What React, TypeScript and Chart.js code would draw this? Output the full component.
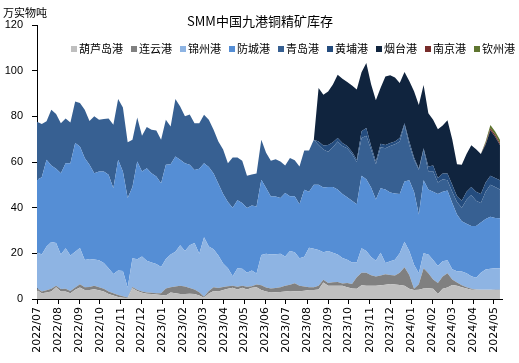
import React, { useEffect, useRef } from "react";
import { Chart, registerables } from "chart.js";

Chart.register(...registerables);

const TITLE = "SMM中国九港铜精矿库存";
const UNIT = "万实物吨";
const FIRST_WEEK = "2022-07-01";

const monthLabels = [
  "2022/07", "2022/08", "2022/09", "2022/10", "2022/11", "2022/12",
  "2023/01", "2023/02", "2023/03", "2023/04", "2023/05", "2023/06",
  "2023/07", "2023/08", "2023/09", "2023/10", "2023/11", "2023/12",
  "2024/01", "2024/02", "2024/03", "2024/04", "2024/05",
];

const seriesNames = ["葫芦岛港", "连云港", "锦州港", "防城港", "青岛港", "黄埔港", "烟台港", "南京港", "钦州港"];
const seriesColors = ["#BFBFBF", "#808080", "#8EB4E3", "#558ED5", "#376092", "#244C7E", "#10243E", "#772C2A", "#5F7530"];

const huludao = [
  3.9, 2.5, 2.8, 3.3, 5.1, 3.3, 3.3, 2.5, 4.0, 5.0,
  3.9, 3.9, 4.3, 3.8, 3.3, 2.2, 1.5, 0.9, 0.6, 0.4,
  4.7, 3.5, 2.7, 2.3, 2.2, 2.0, 1.7, 1.5, 2.8, 2.5,
  2.2, 2.2, 2.3, 2.2, 1.5, 0.5, 2.4, 3.5, 3.3, 3.9,
  4.5, 4.9, 4.2, 4.9, 4.2, 4.9, 5.2, 3.9, 3.3, 2.9,
  3.0, 3.1, 3.3, 3.5, 3.4, 3.4, 3.6, 3.9, 3.9, 4.2,
  7.2, 5.8, 5.8, 5.8, 5.8, 5.2, 4.6, 4.5, 6.0, 5.8,
  5.8, 5.8, 6.0, 6.2, 6.6, 6.3, 6.1, 5.8, 4.5, 3.9,
  4.1, 4.6, 4.7, 4.5, 2.2, 4.5, 5.0, 6.1, 5.8, 5.2,
  4.6, 4.1, 4.0, 4.0, 4.0, 4.0, 3.9, 3.9,
];

const lianyungang = [
  0.8, 0.8, 1.0, 1.2, 0.7, 1.1, 1.2, 1.0, 1.0, 1.5,
  1.2, 1.4, 1.5, 1.4, 1.2, 1.1, 1.0, 0.8, 0.6, 0.3,
  0.6, 0.5, 0.6, 0.6, 0.5, 0.5, 0.8, 3.1, 2.4, 3.0,
  3.6, 3.3, 2.5, 2.0, 1.5, 0.5, 1.1, 1.6, 1.5, 1.4,
  1.1, 0.9, 1.2, 0.9, 1.2, 0.7, 1.1, 2.1, 1.7, 1.7,
  1.8, 2.1, 2.5, 2.7, 3.5, 2.4, 1.9, 1.3, 1.2, 1.6,
  1.2, 1.2, 1.5, 1.6, 1.0, 1.8, 2.0, 5.0, 5.5, 5.7,
  4.6, 4.0, 4.3, 4.6, 3.9, 4.0, 5.4, 8.1, 6.0, 0.6,
  2.4, 8.9, 6.6, 4.0, 4.8, 5.3, 6.3, 2.4, 1.4, 0.8,
  0.6, 0.4, 0.2, 0.1, 0.1, 0.0, 0.1, 0.1,
];

const jinzhou = [
  15.8, 16.2, 19.2, 20.5, 18.7, 15.1, 17.7, 15.5, 15.7, 15.8,
  12.0, 12.2, 11.5, 11.8, 11.3, 10.2, 8.5, 10.8, 11.1, 4.3,
  12.5, 13.4, 15.3, 13.9, 13.3, 12.8, 11.5, 12.9, 14.3, 15.2,
  17.7, 15.5, 18.7, 20.3, 16.8, 26.0, 19.5, 16.7, 14.2, 10.2,
  7.9, 4.2, 8.1, 7.4, 6.1, 6.9, 4.9, 13.3, 14.8, 14.9,
  14.8, 14.6, 12.8, 14.8, 13.6, 12.0, 13.0, 17.3, 16.9, 15.7,
  12.1, 14.0, 13.0, 12.1, 11.2, 10.2, 9.4, 6.5, 10.7, 9.5,
  8.0, 7.0, 10.0, 5.0, 6.0, 6.9, 8.5, 11.2, 10.5, 10.5,
  4.8, 6.5, 8.2, 8.6, 7.5, 6.7, 5.7, 4.5, 5.0, 6.0,
  6.1, 5.5, 5.1, 7.4, 8.8, 9.3, 9.5, 9.5,
];

const fangcheng = [
  31.7, 33.8, 38.0, 33.5, 32.5, 35.6, 37.3, 40.5, 47.6, 44.5,
  44.6, 41.3, 37.8, 38.8, 40.0, 40.9, 37.5, 48.5, 43.5, 39.2,
  31.2, 42.8, 37.2, 40.5, 39.1, 38.3, 36.7, 41.3, 39.5, 41.7,
  37.5, 38.5, 35.3, 32.0, 37.2, 32.5, 34.8, 33.2, 31.5, 30.5,
  29.0, 30.0, 29.7, 28.8, 28.3, 28.5, 29.3, 32.9, 28.8, 25.4,
  25.3, 24.4, 27.8, 24.0, 24.5, 23.7, 29.3, 24.5, 28.0, 28.5,
  28.3, 28.0, 28.7, 28.5, 28.0, 27.4, 27.0, 25.5, 31.8, 31.5,
  30.4, 26.8, 28.2, 32.2, 30.1, 29.0, 26.0, 26.4, 31.0, 32.0,
  25.7, 32.0, 28.5, 29.9, 31.5, 30.5, 30.5, 29.0, 24.8, 22.0,
  21.7, 22.0, 22.7, 22.0, 22.1, 22.7, 22.0, 21.9,
];

const qingdao = [
  25.4, 23.3, 16.8, 24.4, 24.0, 21.9, 19.5, 17.8, 18.2, 19.0,
  21.2, 19.2, 24.9, 22.7, 23.0, 24.6, 27.8, 26.6, 28.1, 24.4,
  20.7, 19.3, 15.7, 18.0, 19.0, 20.2, 19.0, 19.7, 16.6, 25.2,
  23.3, 20.5, 22.0, 20.5, 20.0, 21.2, 20.7, 19.1, 18.5, 19.5,
  17.0, 22.0, 18.8, 18.5, 14.2, 13.5, 14.5, 17.5, 15.4, 15.6,
  16.3, 16.0, 12.1, 16.8, 15.8, 16.5, 17.2, 18.0, 19.7, 17.5,
  16.7, 15.5, 17.5, 21.0, 21.0, 21.4, 20.5, 18.5, 16.5, 19.0,
  16.7, 15.4, 18.0, 18.0, 20.4, 21.6, 23.0, 24.8, 15.5, 14.0,
  19.6, 13.4, 8.0, 9.0, 5.0, 5.5, 4.5, 5.0, 5.5, 6.0,
  10.5, 13.5, 11.0, 8.5, 12.0, 14.0, 13.5, 12.6,
];

const huangpu = [
  0, 0, 0, 0, 0, 0, 0, 0, 0, 0,
  0, 0, 0, 0, 0, 0, 0, 0, 0, 0,
  0, 0, 0, 0, 0, 0, 0, 0, 0, 0,
  0, 0, 0, 0, 0, 0, 0, 0, 0, 0,
  0, 0, 0, 0, 0, 0, 0, 0, 0, 0,
  0, 0, 0, 0, 0, 0, 0, 0, 0, 1.5,
  1.7, 3.0, 2.2, 1.5, 1.3, 1.0, 1.0, 1.0, 3.0, 3.4,
  1.5, 1.2, 1.5, 1.5, 1.3, 1.2, 1.5, 0.7, 1.5, 1.0,
  0.4, 0.6, 2.0, 2.5, 2.0, 2.5, 3.0, 3.0, 2.5, 3.0,
  3.5, 3.5, 4.0, 4.0, 4.0, 4.0, 4.0, 4.0,
];

const yantai = [
  0, 0, 0, 0, 0, 0, 0, 0, 0, 0,
  0, 0, 0, 0, 0, 0, 0, 0, 0, 0,
  0, 0, 0, 0, 0, 0, 0, 0, 0, 0,
  0, 0, 0, 0, 0, 0, 0, 0, 0, 0,
  0, 0, 0, 0, 0, 0, 0, 0, 0, 0,
  0, 0, 0, 0, 0, 0, 0, 0, 0, 23.4,
  22.3, 23.4, 25.2, 27.7, 28.2, 28.0, 29.0, 30.7, 25.8, 28.5,
  27.0, 26.8, 24.5, 30.0, 29.7, 28.0, 24.1, 22.4, 26.5, 29.0,
  28.0, 27.7, 23.4, 20.0, 21.3, 21.0, 23.3, 20.0, 14.0, 15.8,
  16.5, 18.3, 18.6, 17.5, 16.7, 19.9, 18.1, 15.4,
];

const nanjing = [
  0, 0, 0, 0, 0, 0, 0, 0, 0, 0,
  0, 0, 0, 0, 0, 0, 0, 0, 0, 0,
  0, 0, 0, 0, 0, 0, 0, 0, 0, 0,
  0, 0, 0, 0, 0, 0, 0, 0, 0, 0,
  0, 0, 0, 0, 0, 0, 0, 0, 0, 0,
  0, 0, 0, 0, 0, 0, 0, 0, 0, 0,
  0, 0, 0, 0, 0, 0, 0, 0, 0, 0,
  0, 0, 0, 0, 0, 0, 0, 0, 0, 0,
  0, 0, 0, 0, 0, 0, 0, 0, 0, 0,
  0, 0, 0, 0, 0.5, 0.8, 0.8, 0.8,
];

const qinzhou = [
  0, 0, 0, 0, 0, 0, 0, 0, 0, 0,
  0, 0, 0, 0, 0, 0, 0, 0, 0, 0,
  0, 0, 0, 0, 0, 0, 0, 0, 0, 0,
  0, 0, 0, 0, 0, 0, 0, 0, 0, 0,
  0, 0, 0, 0, 0, 0, 0, 0, 0, 0,
  0, 0, 0, 0, 0, 0, 0, 0, 0, 0,
  0, 0, 0, 0, 0, 0, 0, 0, 0, 0,
  0, 0, 0, 0, 0, 0, 0, 0, 0, 0,
  0, 0, 0, 0, 0, 0, 0, 0, 0, 0,
  0, 0, 0, 0, 0.8, 1.5, 1.5, 1.5,
];

const seriesValues = [huludao, lianyungang, jinzhou, fangcheng, qingdao, huangpu, yantai, nanjing, qinzhou];

const CJK_FONT = "'Noto Sans CJK SC', 'Liberation Sans', sans-serif";
const NUM_FONT = "'Liberation Sans', 'Noto Sans CJK SC', sans-serif";
const XTICK_FONT = "'DejaVu Sans', 'Liberation Sans', sans-serif";

const DAY = 86400000;
const startMs = Date.parse(FIRST_WEEK + "T00:00:00Z");
const monthOffsets = monthLabels.map((l) => {
  const [y, m] = l.split("/").map(Number);
  return Math.round((Date.UTC(y, m - 1, 1) - startMs) / DAY);
});

const overlayPlugin = {
  id: "overlayText",
  afterDraw(chart: any) {
    const ctx = chart.ctx as CanvasRenderingContext2D;
    ctx.save();
    ctx.fillStyle = "#000";
    ctx.textBaseline = "middle";
    ctx.textAlign = "center";
    ctx.font = `13px ${CJK_FONT}`;
    ctx.fillText(TITLE, 260, 21);
    ctx.textAlign = "left";
    ctx.font = `11px ${CJK_FONT}`;
    ctx.fillText(UNIT, 3, 13);
    let x = 71;
    const y = 49;
    seriesNames.forEach((name, k) => {
      ctx.fillStyle = seriesColors[k];
      ctx.fillRect(x, y - 3, 6, 6);
      ctx.fillStyle = "#000";
      ctx.fillText(name, x + 8, y);
      x += 8 + ctx.measureText(name).width + 8;
    });
    ctx.restore();
  },
};

export default function App() {
  const canvasRef = useRef<HTMLCanvasElement | null>(null);

  useEffect(() => {
    document.body.style.margin = "0";
    const canvas = canvasRef.current;
    if (!canvas) return;
    const datasets = seriesValues.map((vals, k) => ({
      label: seriesNames[k],
      data: vals.map((v, i) => ({ x: i * 7, y: v })),
      backgroundColor: seriesColors[k],
      borderColor: seriesColors[k],
      borderWidth: 0,
      pointRadius: 0,
      tension: 0,
      fill: k === 0 ? "origin" : "-1",
    }));
    const chart = new Chart(canvas, {
      type: "line",
      data: { datasets },
      plugins: [overlayPlugin],
      options: {
        responsive: false,
        animation: false,
        devicePixelRatio: 1,
        layout: { padding: { top: 25, right: 17, left: 0, bottom: 0 } },
        plugins: {
          legend: { display: false },
          title: { display: false },
          tooltip: { enabled: false },
        },
        scales: {
          x: {
            type: "linear",
            min: 0,
            max: 682,
            afterBuildTicks: (scale: any) => {
              scale.ticks = monthOffsets.map((v) => ({ value: v }));
            },
            afterFit: (scale: any) => {
              scale.height = 64;
            },
            grid: { drawOnChartArea: false, drawTicks: true, tickLength: 5, color: "#000" },
            border: { display: true, color: "#000" },
            ticks: {
              autoSkip: false,
              minRotation: 90,
              maxRotation: 90,
              padding: 3,
              color: "#000",
              font: { family: XTICK_FONT, size: 11 },
              callback: (_v: any, i: number) => monthLabels[i],
            },
          },
          y: {
            stacked: true,
            min: 0,
            max: 120,
            afterFit: (scale: any) => {
              scale.width = 37;
            },
            grid: { drawOnChartArea: false, drawTicks: true, tickLength: 5, color: "#000" },
            border: { display: true, color: "#000" },
            ticks: {
              stepSize: 20,
              padding: 9,
              color: "#000",
              font: { family: NUM_FONT, size: 11 },
            },
          },
        },
      },
    } as any);
    return () => chart.destroy();
  }, []);

  return (
    <div style={{ width: 519, height: 363, background: "#fff" }}>
      <canvas ref={canvasRef} width={519} height={363} style={{ display: "block", width: 519, height: 363 }} />
    </div>
  );
}
